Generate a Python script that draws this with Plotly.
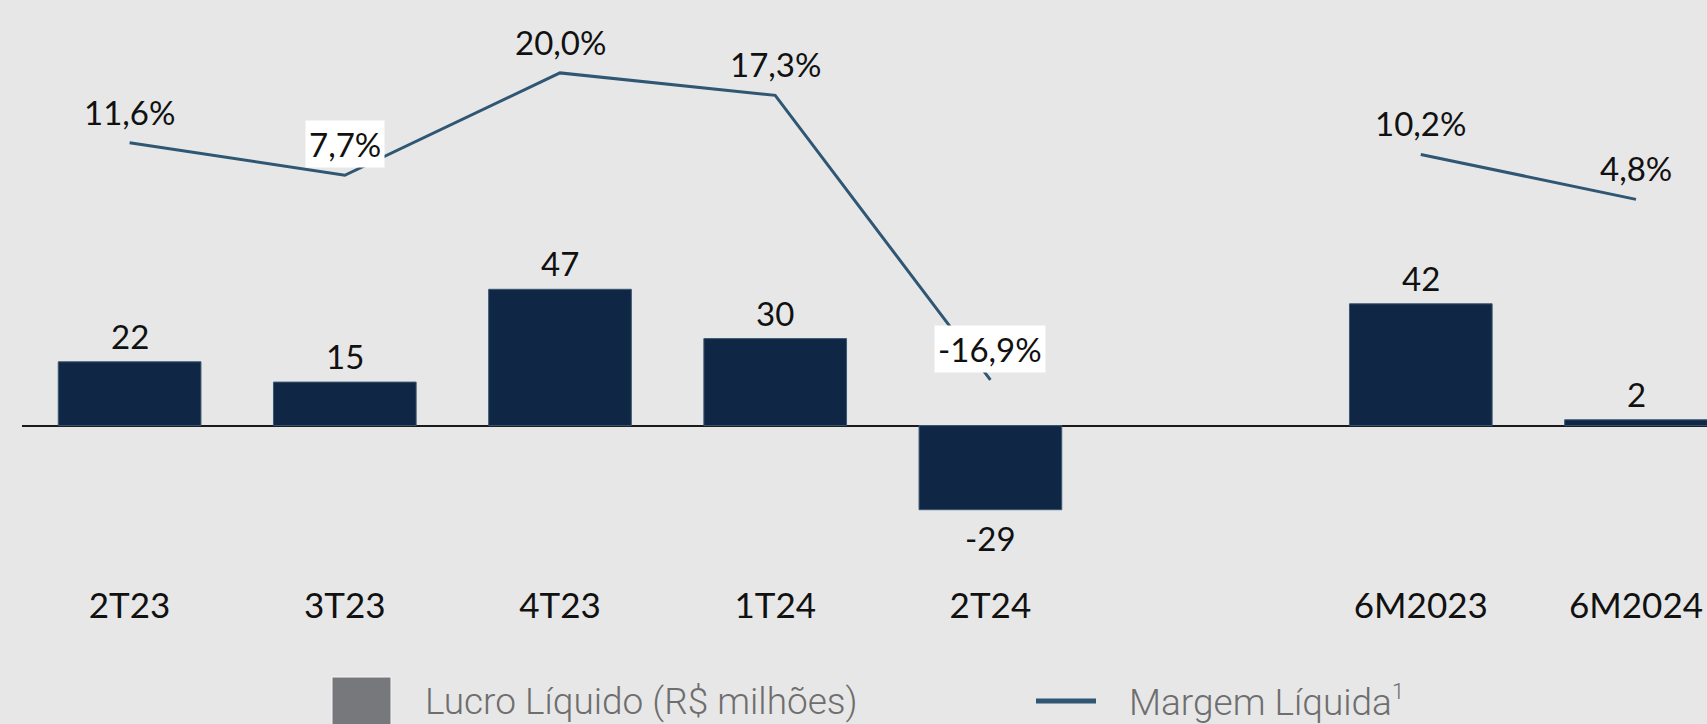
import plotly.graph_objects as go

# ---------------- data ----------------
categories = ["2T23", "3T23", "4T23", "1T24", "2T24", " ", "6M2023", "6M2024"]
lucro = [22, 15, 47, 30, -29, None, 42, 2]
margem = [11.6, 7.7, 20.0, 17.3, -16.9, None, 10.2, 4.8]
lucro_labels = ["22", "15", "47", "30", "-29", None, "42", "2"]
margem_labels = ["11,6%", "7,7%", "20,0%", "17,3%", "-16,9%", None, "10,2%", "4,8%"]
boxed = [False, True, False, False, True, False, False, False]
legend_names = ["Lucro Líquido (R$ milhões)",
                "Margem Líquida<sup><span style='font-size:22px'>1</span></sup>"]

# ---------------- style ----------------
W, H = 1707, 724
ML, MR, MT, MB = 22, 0, 0, 142
PW, PH = W - ML - MR, H - MT - MB
BG = "#E7E7E7"
BAR = "#0F2744"
LINE = "#2F5672"
FONT = "Lato"
WT = 400
slot = 215.2

def px_x(px):
    return (px - ML) / PW

def px_y(py):
    return (MT + PH - py) / PH

fig = go.Figure()
fig.add_trace(go.Bar(
    x=categories, y=lucro, marker=dict(color=BAR, line=dict(color="#3B5873", width=1)),
    width=0.663, hoverinfo="skip", name=legend_names[0],
))
fig.add_trace(go.Scatter(
    x=categories, y=margem, yaxis="y2", mode="lines",
    line=dict(color=LINE, width=3), connectgaps=False, name=legend_names[1],
))

ann = []
for c, v, t in zip(categories, lucro, lucro_labels):
    if v is None:
        continue
    ann.append(dict(x=c, y=v, xref="x", yref="y", text=t, showarrow=False,
                    yshift=26 if v >= 0 else -28,
                    font=dict(family=FONT, size=33, color="#111111", weight=WT)))
for c, v, t, b in zip(categories, margem, margem_labels, boxed):
    if v is None:
        continue
    ann.append(dict(x=c, y=v, xref="x", yref="y2", text=t, showarrow=False, yshift=31,
                    bgcolor="white" if b else "rgba(0,0,0,0)", borderpad=3,
                    font=dict(family=FONT, size=33, color="#111111", weight=WT)))

# legend (manual)
shapes = [
    dict(type="rect", xref="paper", yref="paper", x0=px_x(332), x1=px_x(391),
         y0=px_y(740), y1=px_y(677), fillcolor="#77787C", line=dict(width=1, color="#F4F4F4")),
    dict(type="line", xref="paper", yref="paper", x0=px_x(1036), x1=px_x(1096),
         y0=px_y(701), y1=px_y(701), line=dict(color=LINE, width=5)),
]
ann.append(dict(x=px_x(423), y=px_y(701), xref="paper", yref="paper", xanchor="left",
                yanchor="middle", showarrow=False, text=legend_names[0],
                font=dict(family="Roboto", size=37, color="#6E6E6E", weight=300)))
ann.append(dict(x=px_x(1127), y=px_y(701), xref="paper", yref="paper", xanchor="left",
                yanchor="middle", showarrow=False, text=legend_names[1],
                font=dict(family="Roboto", size=37, color="#6E6E6E", weight=300)))

zero_px = 425.6
ppu = 2.9
y_top = (zero_px - MT) / ppu
y_bot = -(MT + PH - zero_px) / ppu
a2, b2 = 239.3, 8.32
y2_top = (a2 - MT) / b2
y2_bot = (a2 - (MT + PH)) / b2

fig.update_layout(
    width=W, height=H, margin=dict(l=ML, r=MR, t=MT, b=MB, autoexpand=False),
    paper_bgcolor=BG, plot_bgcolor=BG, showlegend=False,
    xaxis=dict(type="category", range=[-0.5, -0.5 + PW / slot], showgrid=False,
               showline=False, ticks="", zeroline=False,
               tickfont=dict(family=FONT, size=35, color="#111111", weight=WT)),
    yaxis=dict(range=[y_bot, y_top], showgrid=False, showticklabels=False, ticks="",
               zeroline=True, zerolinecolor="#1A1A1A", zerolinewidth=2, showline=False),
    yaxis2=dict(range=[y2_bot, y2_top], overlaying="y", side="right", showgrid=False,
                showticklabels=False, ticks="", zeroline=False, showline=False),
    annotations=ann, shapes=shapes,
)

fig.write_html("out.html", config={"displayModeBar": False},
               post_script="document.body.style.margin='0';document.body.style.overflow='hidden';")
